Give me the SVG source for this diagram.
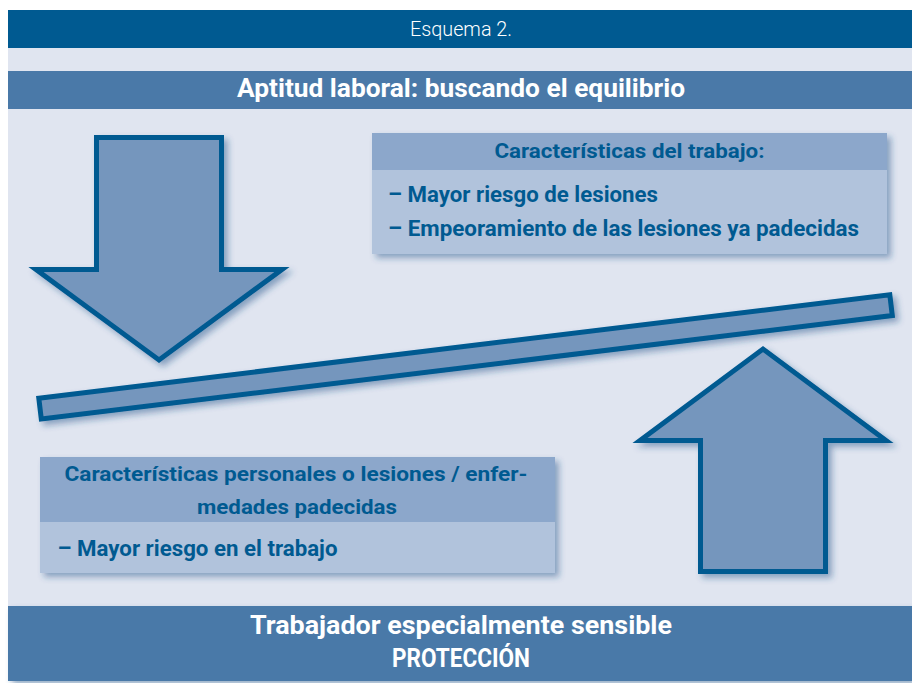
<svg xmlns="http://www.w3.org/2000/svg" width="912" height="683" viewBox="0 0 912 683">
<defs>
<filter id="sh" x="-10%" y="-10%" width="130%" height="140%">
<feGaussianBlur in="SourceAlpha" stdDeviation="3"/>
<feOffset dx="4" dy="4" result="b"/>
<feFlood flood-color="#1f4f86" flood-opacity="0.45"/>
<feComposite in2="b" operator="in"/>
<feMerge><feMergeNode/><feMergeNode in="SourceGraphic"/></feMerge>
</filter>
<style>
.bar{fill:#005a91}
.mid{fill:#4a79a8}
.shape{fill:#7596bd;stroke:#005a91;stroke-width:5;stroke-linejoin:miter;stroke-miterlimit:10}
.hdr{fill:#8ca7cb}
.body{fill:#b1c3dc}
.wt{font-family:"Roboto","Liberation Sans",sans-serif;fill:#ffffff;text-anchor:middle}
.bt{font-family:"Roboto","Liberation Sans",sans-serif;font-weight:bold;fill:#005a91}
</style>
</defs>
<rect x="0" y="0" width="912" height="683" fill="#ffffff"/>
<rect x="8" y="48" width="904" height="558" fill="#e0e5f0"/>
<g id="header">
<rect class="bar" x="8" y="10" width="904" height="38"/>
<text class="wt" x="461" y="36" font-size="21" font-weight="300" textLength="102" lengthAdjust="spacingAndGlyphs">Esquema 2.</text>
</g>
<g id="title">
<rect class="mid" x="8" y="71" width="904" height="38"/>
<text class="wt" x="461" y="97" font-size="26" font-weight="bold" textLength="448" lengthAdjust="spacingAndGlyphs">Aptitud laboral: buscando el equilibrio</text>
</g>
<g id="arrow-down" filter="url(#sh)">
<polygon class="shape" points="96.5,137.5 221.5,137.5 221.5,269.5 282,269.5 159,360 36,269.5 96.5,269.5"/>
</g>
<g id="arrow-up" filter="url(#sh)">
<polygon class="shape" points="700.5,571.5 825.5,571.5 825.5,440.5 886,440.5 763,349 640,440.5 700.5,440.5"/>
</g>
<g id="beam" filter="url(#sh)">
<polygon class="shape" points="38.8,398.2 889.8,294.8 892.3,315.6 41.3,419"/>
</g>
<g id="box-trabajo">
<g filter="url(#sh)">
<rect class="body" x="372" y="133" width="515" height="121"/>
</g>
<rect class="hdr" x="372" y="133" width="515" height="37"/>
<text class="bt" x="629.5" y="157.5" font-size="21" text-anchor="middle" textLength="270" lengthAdjust="spacingAndGlyphs">Características del trabajo:</text>
<text class="bt" x="388" y="202" font-size="22" textLength="270" lengthAdjust="spacingAndGlyphs">– Mayor riesgo de lesiones</text>
<text class="bt" x="388" y="235.5" font-size="22" textLength="471" lengthAdjust="spacingAndGlyphs">– Empeoramiento de las lesiones ya padecidas</text>
</g>
<g id="box-personales">
<g filter="url(#sh)">
<rect class="body" x="40" y="457" width="515" height="116"/>
</g>
<rect class="hdr" x="40" y="457" width="515" height="65"/>
<text class="bt" x="296" y="480.5" font-size="21" text-anchor="middle" textLength="463" lengthAdjust="spacingAndGlyphs">Características personales o lesiones / enfer-</text>
<text class="bt" x="297" y="513.5" font-size="21" text-anchor="middle" textLength="200" lengthAdjust="spacingAndGlyphs">medades padecidas</text>
<text class="bt" x="57.5" y="555.5" font-size="22" textLength="280" lengthAdjust="spacingAndGlyphs">– Mayor riesgo en el trabajo</text>
</g>
<g id="footer" filter="url(#sh)">
<rect class="mid" x="8" y="606" width="904" height="75"/>
</g>
<g id="footer-text">
<text class="wt" x="461" y="634" font-size="26" font-weight="bold" textLength="422" lengthAdjust="spacingAndGlyphs">Trabajador especialmente sensible</text>
<text class="wt" x="461" y="667" font-size="26" font-weight="bold" textLength="138" lengthAdjust="spacingAndGlyphs">PROTECCIÓN</text>
</g>
</svg>
